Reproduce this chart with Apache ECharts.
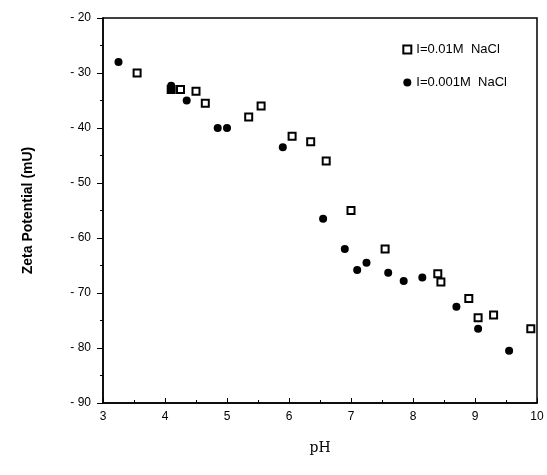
<!DOCTYPE html>
<html><head><meta charset="utf-8">
<script src="https://cdn.jsdelivr.net/npm/echarts@6/dist/echarts.min.js"></script>
<style>html,body{margin:0;background:#fff}#app{width:547px;height:475px}</style>
</head><body><div id="app"></div>
<script>
// I=0.01M NaCl
const phA = [3.55, 4.1, 4.25, 4.5, 4.65, 5.35, 5.55, 6.05, 6.35, 6.6, 7.0, 7.55, 8.4, 8.45, 8.9, 9.05, 9.3, 9.9];
const zetaA = [-30, -33, -33, -33.3, -35.5, -38, -36, -41.5, -42.5, -46, -55, -62, -66.5, -68, -71, -74.5, -74, -76.5];
// I=0.001M NaCl
const phB = [3.25, 4.1, 4.1, 4.35, 4.85, 5.0, 5.9, 6.55, 6.9, 7.1, 7.25, 7.6, 7.85, 8.15, 8.7, 9.05, 9.55];
const zetaB = [-28, -32.3, -33, -35, -40, -40, -43.5, -56.5, -62, -65.8, -64.5, -66.3, -67.8, -67.2, -72.5, -76.5, -80.5];
const xTicks = [3, 4, 5, 6, 7, 8, 9, 10];

const pair = (xs, ys) => xs.map((x, i) => [x, ys[i]]);
const chart = echarts.init(document.getElementById('app'));
chart.setOption({
  animation: false,
  grid: { left: 103, right: 10, top: 18, bottom: 72, show: true, borderColor: '#000', borderWidth: 1.5 },
  legend: {
    right: 35, top: 38, orient: 'vertical', itemGap: 20, itemWidth: 8, itemHeight: 8,
    textStyle: { fontFamily: 'Liberation Sans', fontSize: 13, color: '#000' },
    data: [
      { name: 'I=0.01M  NaCl' },
      { name: 'I=0.001M  NaCl' }
    ]
  },
  xAxis: {
    type: 'value', min: 3, max: 10, interval: 1,
    name: 'pH', nameLocation: 'middle', nameGap: 38,
    nameTextStyle: { fontFamily: 'DejaVu Serif', fontSize: 14, color: '#000' },
    axisLine: { lineStyle: { color: '#000', width: 1.5 } },
    axisTick: { inside: true, length: 5, lineStyle: { color: '#000' } },
    minorTick: { show: true, splitNumber: 2, length: 3, lineStyle: { color: '#000' } },
    axisLabel: { color: '#000', fontFamily: 'Liberation Sans', fontSize: 12,
      formatter: v => xTicks.includes(v) ? String(v) : '' },
    splitLine: { show: false }
  },
  yAxis: {
    type: 'value', min: -90, max: -20, interval: 10,
    name: 'Zeta Potential (mU)', nameLocation: 'middle', nameGap: 68,
    nameTextStyle: { fontFamily: 'Liberation Sans', fontSize: 14, fontWeight: 'bold', color: '#000' },
    axisLine: { lineStyle: { color: '#000', width: 1.5 } },
    axisTick: { length: 6, lineStyle: { color: '#000' } },
    minorTick: { show: true, splitNumber: 2, length: 3, lineStyle: { color: '#000' } },
    axisLabel: { color: '#000', fontFamily: 'Liberation Sans', fontSize: 12, margin: 12,
      formatter: v => '-' + ' ' + Math.abs(v) },
    splitLine: { show: false }
  },
  series: [
    {
      name: 'I=0.01M  NaCl', type: 'scatter', symbol: 'rect', symbolSize: 7,
      itemStyle: { color: '#fff', borderColor: '#000', borderWidth: 2, opacity: 1 },
      data: pair(phA, zetaA)
    },
    {
      name: 'I=0.001M  NaCl', type: 'scatter', symbol: 'circle', symbolSize: 8,
      itemStyle: { color: '#000', opacity: 1 },
      data: pair(phB, zetaB)
    }
  ]
});
</script></body></html>
